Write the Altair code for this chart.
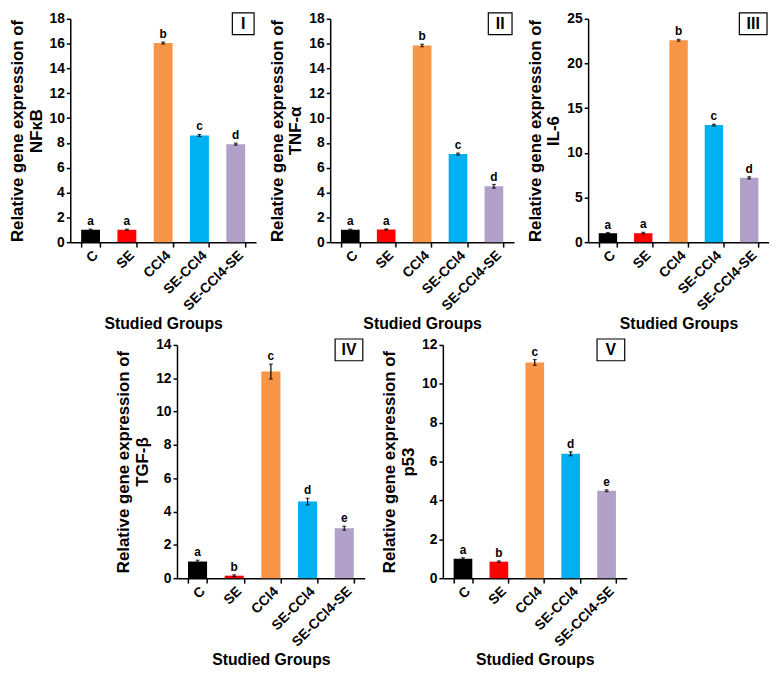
import altair as alt
import pandas as pd

FONT = "Liberation Sans"

groups = ["C", "SE", "CCl4", "SE-CCl4", "SE-CCl4-SE"]
colors = ["#000000", "#FF0000", "#F79646", "#00B0F0", "#B1A0C7"]

nfkb_vals = [1.0, 1.0, 16.05, 8.6, 7.9]
nfkb_err = [0.05, 0.05, 0.08, 0.08, 0.08]
nfkb_letters = ["a", "a", "b", "c", "d"]

tnf_vals = [1.0, 1.02, 15.85, 7.1, 4.5]
tnf_err = [0.05, 0.05, 0.1, 0.08, 0.15]
tnf_letters = ["a", "a", "b", "c", "d"]

il6_vals = [1.0, 1.0, 22.6, 13.1, 7.2]
il6_err = [0.08, 0.1, 0.1, 0.1, 0.12]
il6_letters = ["a", "a", "b", "c", "d"]

tgf_vals = [1.0, 0.15, 12.4, 4.6, 3.0]
tgf_err = [0.08, 0.05, 0.45, 0.2, 0.12]
tgf_letters = ["a", "b", "c", "d", "e"]

p53_vals = [1.0, 0.85, 11.1, 6.4, 4.5]
p53_err = [0.05, 0.04, 0.15, 0.1, 0.05]
p53_letters = ["a", "b", "c", "d", "e"]


def panel(vals, errs, letters, ymax, step, gene, roman, w, h, box_w):
    df = pd.DataFrame({
        "group": groups,
        "value": vals,
        "err": errs,
        "letter": letters,
    })
    df["lo"] = df["value"] - df["err"]
    df["hi"] = df["value"] + df["err"]
    base = alt.Chart(df)
    xscale = alt.Scale(paddingInner=0.48, paddingOuter=0.3)
    xaxis = alt.Axis(
        title="Studied Groups",
        labelAngle=-45,
        tickBand="extent",
        tickSize=5,
        labelPadding=1,
        titlePadding=3,
        labelFontSize=14,
        titleFontSize=16,
    )
    x = alt.X("group:N", sort=groups, scale=xscale, axis=xaxis)
    yscale = alt.Scale(domain=[0, ymax], nice=False)
    yaxis = alt.Axis(
        title=["Relative gene expression of", gene],
        values=list(range(0, ymax + 1, step)),
        labelOverlap=False,
        tickSize=4,
        titlePadding=4,
        titleLineHeight=19,
        labelFontSize=14,
        titleFontSize=17,
    )

    def Y(field):
        return alt.Y(field, scale=yscale, axis=yaxis)

    bars = base.mark_bar().encode(
        x=x,
        y=Y("value:Q"),
        color=alt.Color("group:N", scale=alt.Scale(domain=groups, range=colors), legend=None),
    )
    rule = base.mark_rule(color="black", strokeWidth=1.2).encode(
        x=x, y=Y("lo:Q"), y2="hi:Q"
    )
    caps_hi = base.mark_tick(color="black", size=4, thickness=1.2, orient="horizontal").encode(
        x=x, y=Y("hi:Q")
    )
    caps_lo = base.mark_tick(color="black", size=4, thickness=1.2, orient="horizontal").encode(
        x=x, y=Y("lo:Q")
    )
    text = base.mark_text(dy=-8, fontSize=12, fontWeight="bold", font=FONT, color="black").encode(
        x=x, y=Y("hi:Q"), text="letter:N"
    )
    lab = alt.Chart(pd.DataFrame({"t": [roman]}))
    box = lab.mark_rect(fill="white", stroke="black", strokeWidth=1.2).encode(
        x=alt.value(w - box_w - 2), x2=alt.value(w - 2), y=alt.value(-6), y2=alt.value(16)
    )
    boxtext = lab.mark_text(fontSize=16, fontWeight="bold", font=FONT, color="black").encode(
        x=alt.value(w - 2 - box_w / 2), y=alt.value(5), text="t:N"
    )
    return alt.layer(bars, rule, caps_hi, caps_lo, text, box, boxtext).properties(width=w, height=h)


H1 = 226
H2 = 236
p1 = panel(nfkb_vals, nfkb_err, nfkb_letters, 18, 2, "NFκB", "I", 188, H1, 22)
p2 = panel(tnf_vals, tnf_err, tnf_letters, 18, 2, "TNF-α", "II", 186, H1, 24)
p3 = panel(il6_vals, il6_err, il6_letters, 25, 5, "IL-6", "III", 183, H1, 28)
p4 = panel(tgf_vals, tgf_err, tgf_letters, 14, 2, "TGF-β", "IV", 190, H2, 28)
p5 = panel(p53_vals, p53_err, p53_letters, 12, 2, "p53", "V", 186, H2, 28)

spacer = alt.Chart(pd.DataFrame({"a": [0]})).mark_point(opacity=0).encode(
    x=alt.value(0), y=alt.value(0)
).properties(width=29, height=10)

top = alt.hconcat(p1, p2, p3, spacing=12)
bottom = alt.hconcat(spacer, p4, p5, spacing=16)

chart = alt.vconcat(top, bottom, spacing=6, center=False).properties(padding=0).configure_view(
    stroke=None
).configure_axis(
    grid=False,
    domainColor="black",
    domainWidth=1.5,
    tickColor="black",
    tickWidth=1.5,
    labelFont=FONT,
    labelFontWeight="bold",
    labelColor="black",
    titleFont=FONT,
    titleFontWeight="bold",
    titleColor="black",
)

chart.save("out.html", embed_options={"renderer": "svg", "actions": False})
